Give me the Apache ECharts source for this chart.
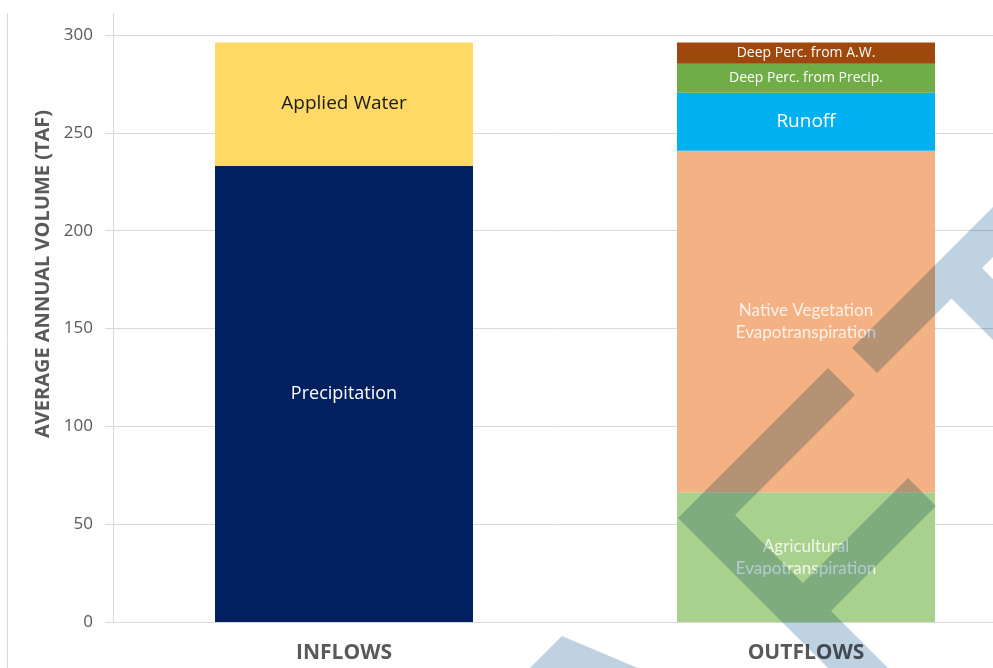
<!DOCTYPE html>
<html>
<head>
<meta charset="utf-8">
<title>Average Annual Volume</title>
<script src="https://cdn.jsdelivr.net/npm/echarts@6/dist/echarts.min.js"></script>
<style>
  html, body { margin: 0; padding: 0; background: #fff; }
  #chart { width: 993px; height: 668px; }
</style>
</head>
<body>
<div id="chart"></div>
<script>
const categories = ['INFLOWS', 'OUTFLOWS']
const yTicks = [0, 50, 100, 150, 200, 250, 300]

// stacked from bottom to top, values in TAF
const precipitation = [233.2, null]
const appliedWater = [63.0, null]
const agriculturalEt = [null, 66.3]
const nativeVegEt = [null, 174.6]
const runoff = [null, 29.6]
const deepPercPrecip = [null, 14.8]
const deepPercAW = [null, 10.9]

const gray = '#595959'
const lineGray = '#d9d9d9'

// watermark shapes (decoration only)
const watermark = [
  [[852, 348], [1000, 200], [1000, 250], [982, 268], [1000, 286], [1000, 347], [951.5, 298.5], [877, 373]],
  [[828, 368], [678, 518], [840, 680], [900, 680], [831, 611], [936, 506], [908, 478], [803, 583], [735, 515], [855, 395]],
  [[562, 636], [518, 680], [666, 680]],
]

function segment(name, text, data, color, label) {
  return {
    name,
    type: 'bar',
    stack: 'total',
    barWidth: 258,
    data,
    itemStyle: { color },
    label: Object.assign({
      show: true,
      position: 'inside',
      formatter: text,
      color: '#fff',
      fontFamily: 'Open Sans',
      fontSize: 18,
    }, label),
    emphasis: { disabled: true },
  }
}

const chart = echarts.init(document.getElementById('chart'))

chart.setOption({
  animation: false,
  backgroundColor: '#fff',
  // the plot runs past the right edge of the picture (it was cropped)
  grid: { left: 113, top: 35, width: 924, height: 587, outerBoundsMode: 'none', containLabel: false },
  xAxis: {
    type: 'category',
    data: categories,
    axisLine: { show: true, lineStyle: { color: lineGray } },
    axisTick: { show: false },
    axisLabel: {
      color: gray,
      fontFamily: 'Open Sans',
      fontWeight: 'bold',
      fontSize: 21,
      margin: 21,
    },
  },
  yAxis: {
    type: 'value',
    min: yTicks[0],
    max: yTicks[yTicks.length - 1],
    interval: 50,
    axisLine: { show: true, lineStyle: { color: lineGray } },
    axisTick: { show: true, length: 8, lineStyle: { color: lineGray } },
    splitLine: { lineStyle: { color: lineGray } },
    axisLabel: {
      color: gray,
      fontFamily: 'Open Sans',
      fontSize: 17,
      margin: 20,
    },
  },
  series: [
    segment('Precipitation', 'Precipitation', precipitation, '#002060'),
    segment('Applied Water', 'Applied Water', appliedWater, '#FFD966', { color: '#1a1a1a', fontSize: 19 }),
    segment('Agricultural Evapotranspiration', 'Agricultural\nEvapotranspiration', agriculturalEt, '#A9D18E',
      { fontFamily: 'Lato', fontSize: 17, lineHeight: 22, color: 'rgba(255,255,255,0.82)' }),
    segment('Native Vegetation Evapotranspiration', 'Native Vegetation\nEvapotranspiration', nativeVegEt, '#F4B183',
      { fontFamily: 'Lato', fontSize: 17, lineHeight: 22, color: 'rgba(255,255,255,0.82)' }),
    segment('Runoff', 'Runoff', runoff, '#00B0F0', { fontSize: 19 }),
    segment('Deep Perc. from Precip.', 'Deep Perc. from Precip.', deepPercPrecip, '#70AD47', { fontSize: 14 }),
    segment('Deep Perc. from A.W.', 'Deep Perc. from A.W.', deepPercAW, '#9E480E', { fontSize: 14 }),
  ],
  graphic: [
    {
      type: 'text',
      x: 43,
      y: 274,
      rotation: Math.PI / 2,
      style: {
        text: 'AVERAGE ANNUAL VOLUME (TAF)',
        fill: gray,
        fontFamily: 'Open Sans',
        fontWeight: 'bold',
        fontSize: 20,
        align: 'center',
        verticalAlign: 'middle',
      },
    },
    { type: 'line', shape: { x1: 7.5, y1: 13, x2: 7.5, y2: 668 }, style: { stroke: lineGray, lineWidth: 1 } },
    { type: 'line', shape: { x1: 113.5, y1: 13, x2: 113.5, y2: 35 }, style: { stroke: lineGray, lineWidth: 1 } },
    ...watermark.map(points => ({
      type: 'polygon',
      z: 100,
      silent: true,
      shape: { points },
      style: { fill: 'rgb(190,210,226)', blend: 'multiply' },
    })),
  ],
})
</script>
</body>
</html>
